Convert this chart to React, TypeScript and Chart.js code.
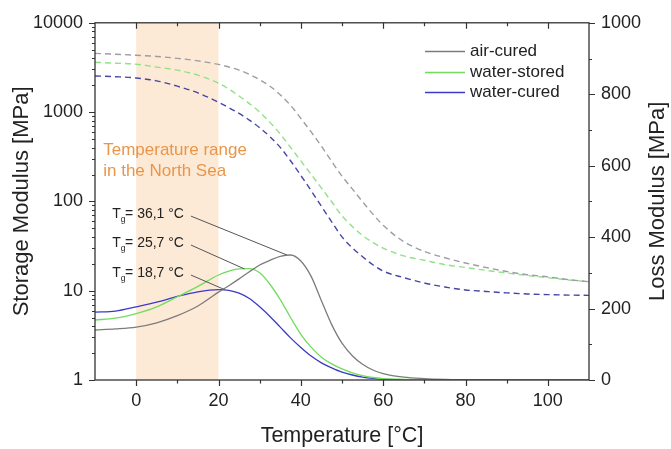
import React, { useEffect, useRef } from "react";
import { Chart, registerables } from "chart.js";

Chart.register(...registerables);

// ---------- data ----------
const temperatures = [-10, -5, 0, 5, 10, 15, 20, 22.5, 25, 27.5, 30, 32.5, 35, 37.5, 40, 42.5, 45, 47.5, 50, 52.5, 55, 57.5, 60, 65, 70, 75, 80, 85, 90, 95, 100, 105, 110];

// Storage modulus (left, log axis) [MPa]
const storageAirCured = [4550, 4450, 4330, 4200, 4000, 3750, 3420, 3200, 2950, 2650, 2300, 1950, 1560, 1190, 850, 600, 415, 280, 192, 138, 99, 72, 54, 35.5, 27.5, 23.4, 20.4, 18.2, 16.4, 15.1, 14.3, 13.3, 12.6];
const storageWaterStored = [3620, 3530, 3440, 3190, 2950, 2590, 2110, 1810, 1514, 1245, 1000, 767, 569, 403, 284, 201, 141, 99, 69, 52.5, 41.5, 34.7, 30, 24.5, 21.9, 19.6, 18.2, 16.9, 15.8, 14.8, 14, 13.2, 12.6];
const storageWaterCured = [2540, 2490, 2410, 2240, 1950, 1640, 1290, 1122, 966, 813, 668, 531, 403, 285, 195, 132, 88, 59, 40, 30.2, 24, 19.5, 16.6, 14, 12.2, 11, 10.2, 9.8, 9.45, 9.2, 9.04, 8.93, 8.87];

// Loss modulus (right, linear axis) [MPa]
const lossAirCured = [140, 143, 148, 160, 180, 207, 246, 264, 283, 303, 322, 335, 346, 350, 333, 290, 222, 155, 103, 68, 44, 28, 18, 8, 4, 2, 1.2, 0.8, 0.5, 0.5, 0.5, 0.5, 0.5];
const lossWaterStored = [168, 173, 186, 205, 233, 262, 294, 305, 311, 312, 300, 268, 225, 175, 128, 92, 64, 45, 31, 20, 12, 7, 4, 2, 1, 0.5, 0.5, 0.5, 0.5, 0.5, 0.5, 0.5, 0.5];
const lossWaterCured = [190, 193, 205, 218, 234, 247, 253, 251, 243, 228, 205, 178, 148, 118, 91, 67, 48, 34, 22, 14, 8, 4.5, 2.5, 1, 0.5, 0.5, 0.5, 0.5, 0.5, 0.5, 0.5, 0.5, 0.5];

const seriesNames = ["air-cured", "water-stored", "water-cured"];

const xTicks = [0, 20, 40, 60, 80, 100];
const yLeftTicks = [1, 10, 100, 1000, 10000];
const yRightTicks = [0, 200, 400, 600, 800, 1000];

// North Sea temperature range
const bandRange = [0, 20];
const bandText = ["Temperature range", "in the North Sea"];
const bandTextX = -8;
const bandTextY = [642, 584];

// Tg annotations (values on the loss-modulus axis)
const tgLabels = ["36,1", "25,7", "18,7"];
const tgLabelX = -5.8;
const tgLabelY = [463, 382, 298];
const tgTargetX = [36.6, 26.3, 21.5];
const tgTargetY = [350, 311, 253];

// ---------- styles ----------
const FONT = '"Liberation Sans", Arial, Helvetica, sans-serif';
const TEXT = "#222222";
const AXIS = "#333333";
const solidColors = ["#7c7c7c", "#72dc5e", "#3b3bc6"];
const dashedColors = ["#9d9da6", "#8fe286", "#4646a8"];

const toPts = (arr: number[]) => temperatures.map((t, i) => ({ x: t, y: arr[i] }));

const decoPlugin = {
  id: "deco",
  beforeDatasetsDraw(chart: any) {
    const { ctx, chartArea } = chart;
    const x = chart.scales.x;
    ctx.save();
    ctx.fillStyle = "#fdead6";
    const x0 = x.getPixelForValue(bandRange[0]);
    const x1 = x.getPixelForValue(bandRange[1]);
    ctx.fillRect(x0, chartArea.top, x1 - x0, chartArea.bottom - chartArea.top);
    ctx.restore();
  },
  afterDatasetsDraw(chart: any) {
    const { ctx, chartArea } = chart;
    const { left, right, top, bottom } = chartArea;
    const x = chart.scales.x;
    const yl = chart.scales.y;
    const yr = chart.scales.y2;
    ctx.save();

    // frame
    ctx.strokeStyle = AXIS;
    ctx.lineWidth = 1.3;
    ctx.strokeRect(left, top, right - left, bottom - top);

    ctx.lineWidth = 1.2;
    ctx.beginPath();
    for (let v = 0; v <= 100; v += 10) {
      const px = Math.round(x.getPixelForValue(v)) + 0.5;
      const len = v % 20 === 0 ? 6 : 3.5;
      ctx.moveTo(px, bottom);
      ctx.lineTo(px, bottom + len);
      ctx.moveTo(px, top);
      ctx.lineTo(px, top + len);
    }
    for (let d = 1; d <= 10000; d *= 10) {
      for (let m = 1; m <= 9; m++) {
        const v = d * m;
        if (v > 10000) break;
        const py = Math.round(yl.getPixelForValue(v)) + 0.5;
        const len = m === 1 ? 6 : 3;
        ctx.moveTo(left, py);
        ctx.lineTo(left - len, py);
      }
    }
    for (let v = 0; v <= 1000; v += 100) {
      const py = Math.round(yr.getPixelForValue(v)) + 0.5;
      const len = v % 200 === 0 ? 6 : 3;
      ctx.moveTo(right, py);
      ctx.lineTo(right + len, py);
    }
    ctx.stroke();

    // right axis title (reads bottom-to-top)
    ctx.save();
    ctx.translate(658, (top + bottom) / 2);
    ctx.rotate(-Math.PI / 2);
    ctx.fillStyle = TEXT;
    ctx.font = `22px ${FONT}`;
    ctx.textAlign = "center";
    ctx.textBaseline = "middle";
    ctx.fillText("Loss Modulus [MPa]", 0, 0);
    ctx.restore();

    // band text
    ctx.fillStyle = "#ea9548";
    ctx.font = `17px ${FONT}`;
    ctx.textBaseline = "middle";
    ctx.textAlign = "left";
    bandText.forEach((t, i) => {
      ctx.fillText(t, x.getPixelForValue(bandTextX), yr.getPixelForValue(bandTextY[i]));
    });

    // Tg labels
    tgLabels.forEach((lab, i) => {
      const lx = x.getPixelForValue(tgLabelX);
      const ly = yr.getPixelForValue(tgLabelY[i]);
      ctx.fillStyle = TEXT;
      ctx.font = `14px ${FONT}`;
      ctx.fillText("T", lx, ly);
      const wT = ctx.measureText("T").width;
      ctx.font = `8.5px ${FONT}`;
      ctx.fillText("g", lx + wT, ly + 5);
      const wg = ctx.measureText("g").width;
      ctx.font = `14px ${FONT}`;
      const rest = "= " + lab + " °C";
      ctx.fillText(rest, lx + wT + wg - 0.5, ly);
      const endX = lx + wT + wg - 0.5 + ctx.measureText(rest).width;
      ctx.strokeStyle = "#555555";
      ctx.lineWidth = 1;
      ctx.beginPath();
      ctx.moveTo(endX + 7, ly + 1.5);
      ctx.lineTo(x.getPixelForValue(tgTargetX[i]), yr.getPixelForValue(tgTargetY[i]));
      ctx.stroke();
    });

    // legend
    const legX0 = 425;
    const legX1 = 465;
    const legY = [51, 72, 92];
    seriesNames.forEach((name, i) => {
      ctx.strokeStyle = solidColors[i];
      ctx.lineWidth = 1.4;
      ctx.beginPath();
      ctx.moveTo(legX0, legY[i] + 0.5);
      ctx.lineTo(legX1, legY[i] + 0.5);
      ctx.stroke();
      ctx.fillStyle = TEXT;
      ctx.font = `17px ${FONT}`;
      ctx.fillText(name, 470, legY[i]);
    });

    ctx.restore();
  },
};

export default function App() {
  const ref = useRef<HTMLCanvasElement | null>(null);

  useEffect(() => {
    if (!ref.current) return;
    const tickFont = { family: FONT, size: 18 };
    const titleFont = { family: FONT, size: 22 };
    const storage = [storageAirCured, storageWaterStored, storageWaterCured];
    const loss = [lossAirCured, lossWaterStored, lossWaterCured];
    const datasets: any[] = [];
    storage.forEach((arr, i) => {
      datasets.push({
        label: seriesNames[i] + " storage",
        data: toPts(arr),
        yAxisID: "y",
        borderColor: dashedColors[i],
        borderWidth: 1.4,
        borderDash: [6, 4],
        pointRadius: 0,
        fill: false,
        cubicInterpolationMode: "monotone",
      });
    });
    loss.forEach((arr, i) => {
      datasets.push({
        label: seriesNames[i],
        data: toPts(arr),
        yAxisID: "y2",
        borderColor: solidColors[i],
        borderWidth: 1.3,
        pointRadius: 0,
        fill: false,
        cubicInterpolationMode: "monotone",
      });
    });

    const chart = new Chart(ref.current, {
      type: "line",
      data: { datasets },
      options: {
        animation: false,
        responsive: false,
        devicePixelRatio: 1,
        layout: { padding: { top: 17, left: 0, right: 0, bottom: 0 } },
        plugins: { legend: { display: false }, tooltip: { enabled: false } },
        scales: {
          x: {
            type: "linear",
            min: -10,
            max: 110,
            afterBuildTicks: (s: any) => {
              s.ticks = xTicks.map((v) => ({ value: v }));
            },
            afterFit: (s: any) => {
              s.height = 69;
            },
            grid: { display: false, drawTicks: false },
            border: { display: false },
            ticks: { padding: 10, font: tickFont, color: TEXT, maxRotation: 0, autoSkip: false, callback: (v: any) => String(v) },
            title: { display: true, text: "Temperature [°C]", font: { family: FONT, size: 21.5 }, color: TEXT, padding: { top: 0, bottom: 0 } },
          },
          y: {
            type: "logarithmic",
            position: "left",
            min: 1,
            max: 10000,
            afterBuildTicks: (s: any) => {
              s.ticks = yLeftTicks.map((v) => ({ value: v }));
            },
            afterFit: (s: any) => {
              s.width = 95;
            },
            grid: { display: false, drawTicks: false },
            border: { display: false },
            ticks: { padding: 12, font: tickFont, color: TEXT, autoSkip: false, callback: (v: any) => String(v) },
            title: { display: true, text: "Storage Modulus [MPa]", font: titleFont, color: TEXT, padding: { top: 9, bottom: 0 } },
          },
          y2: {
            type: "linear",
            position: "right",
            min: 0,
            max: 1000,
            afterBuildTicks: (s: any) => {
              s.ticks = yRightTicks.map((v) => ({ value: v }));
            },
            afterFit: (s: any) => {
              s.width = 82;
            },
            grid: { display: false, drawTicks: false },
            border: { display: false },
            ticks: { padding: 12, font: tickFont, color: TEXT, autoSkip: false, callback: (v: any) => String(v) },
            title: { display: false },
          },
        },
      },
      plugins: [decoPlugin],
    } as any);
    return () => chart.destroy();
  }, []);

  return (
    <div style={{ position: "absolute", left: 0, top: 0, width: 671, height: 449, background: "#fff" }}>
      <canvas ref={ref} width={671} height={449} style={{ display: "block" }} />
    </div>
  );
}
